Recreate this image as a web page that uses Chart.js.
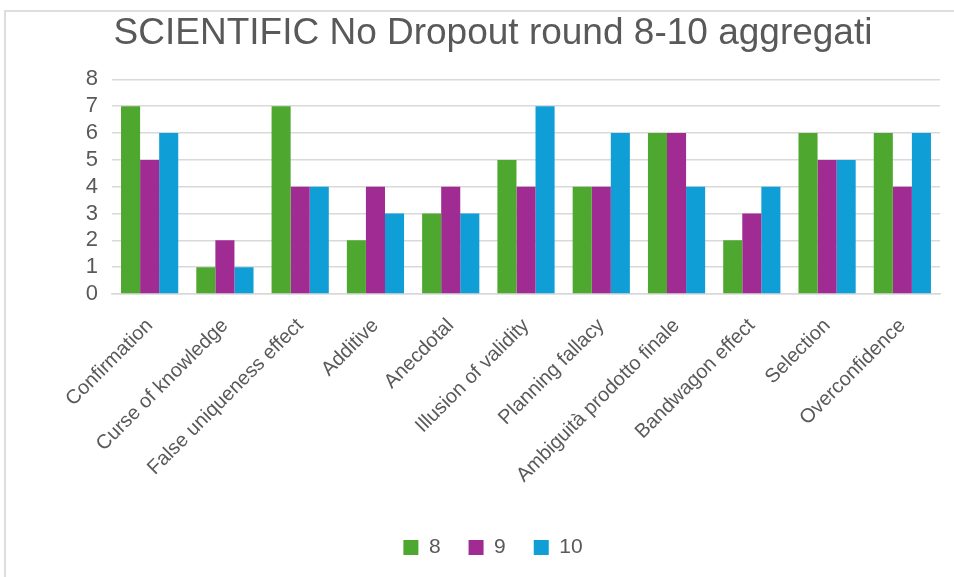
<!DOCTYPE html>
<html lang="it">
<head>
  <meta charset="UTF-8">
  <title>SCIENTIFIC No Dropout round 8-10 aggregati</title>
  <script src="https://cdn.jsdelivr.net/npm/chart.js"></script>
  <style>
    html, body { margin: 0; padding: 0; background: #fff; }
    /* chart frame: only top and left edges are visible */
    .frame {
      position: absolute;
      left: 4px;
      top: 10px;
      width: 954px;
      height: 580px;
      border-top: 2px solid #dedede;
      border-left: 2px solid #dedede;
      pointer-events: none;
    }
    .chart-box {
      position: absolute;
      left: 0;
      top: 0;
      width: 954px;
      height: 577px;
    }
  </style>
</head>
<body>
  <div class="chart-box"><canvas id="biasChart"></canvas></div>
  <div class="frame"></div>

  <script>
    // Bias categories and counts for rounds 8, 9 and 10
    const categories = [
      'Confirmation', 'Curse of knowledge', 'False uniqueness effect', 'Additive',
      'Anecdotal', 'Illusion of validity', 'Planning fallacy', 'Ambiguità prodotto finale',
      'Bandwagon effect', 'Selection', 'Overconfidence'
    ];
    const round8  = [7, 1, 7, 2, 3, 5, 4, 6, 2, 6, 6];
    const round9  = [5, 2, 4, 4, 4, 4, 4, 6, 3, 5, 4];
    const round10 = [6, 1, 4, 3, 3, 7, 6, 4, 4, 5, 6];
    const yTicks  = [0, 1, 2, 3, 4, 5, 6, 7, 8];

    const textGray = '#595959';
    const fontFamily = '"Liberation Sans", Arial, sans-serif';

    const ctx = document.getElementById('biasChart').getContext('2d');
    new Chart(ctx, {
      type: 'bar',
      data: {
        labels: categories,
        datasets: [
          { label: '8',  data: round8,  backgroundColor: '#4ea72e' },
          { label: '9',  data: round9,  backgroundColor: '#a02b93' },
          { label: '10', data: round10, backgroundColor: '#0f9ed5' }
        ]
      },
      options: {
        responsive: true,
        maintainAspectRatio: false,
        animation: false,
        datasets: {
          bar: { categoryPercentage: 0.76, barPercentage: 1.0 }
        },
        layout: {
          // left padding also nudges the title and legend to the right
          padding: { left: 46, right: 14, top: 0, bottom: 9 }
        },
        plugins: {
          title: {
            display: true,
            text: 'SCIENTIFIC No Dropout round 8-10 aggregati',
            color: textGray,
            font: { family: fontFamily, size: 37, weight: 'normal' },
            padding: { top: 12, bottom: 23 }
          },
          legend: {
            position: 'bottom',
            labels: {
              color: textGray,
              font: { family: fontFamily, size: 21 },
              boxWidth: 15,
              boxHeight: 15,
              padding: 28
            }
          },
          tooltip: { enabled: false }
        },
        scales: {
          x: {
            grid: { display: false, drawTicks: false },
            border: { color: '#d9d9d9', width: 1.5 },
            ticks: {
              color: textGray,
              font: { family: fontFamily, size: 20 },
              minRotation: 45,
              maxRotation: 45,
              autoSkip: false,
              padding: 20
            },
            afterFit: (scale) => { scale.height = 215; }
          },
          y: {
            min: 0,
            max: 8,
            afterBuildTicks: (scale) => { scale.ticks = yTicks.map(v => ({ value: v })); },
            grid: { color: '#d9d9d9', lineWidth: 1.5, drawTicks: false },
            border: { display: false },
            ticks: {
              color: textGray,
              font: { family: fontFamily, size: 22 },
              stepSize: 1,
              autoSkip: false,
              padding: 14
            },
            afterFit: (scale) => { scale.width = 66; }
          }
        }
      }
    });
  </script>
</body>
</html>
